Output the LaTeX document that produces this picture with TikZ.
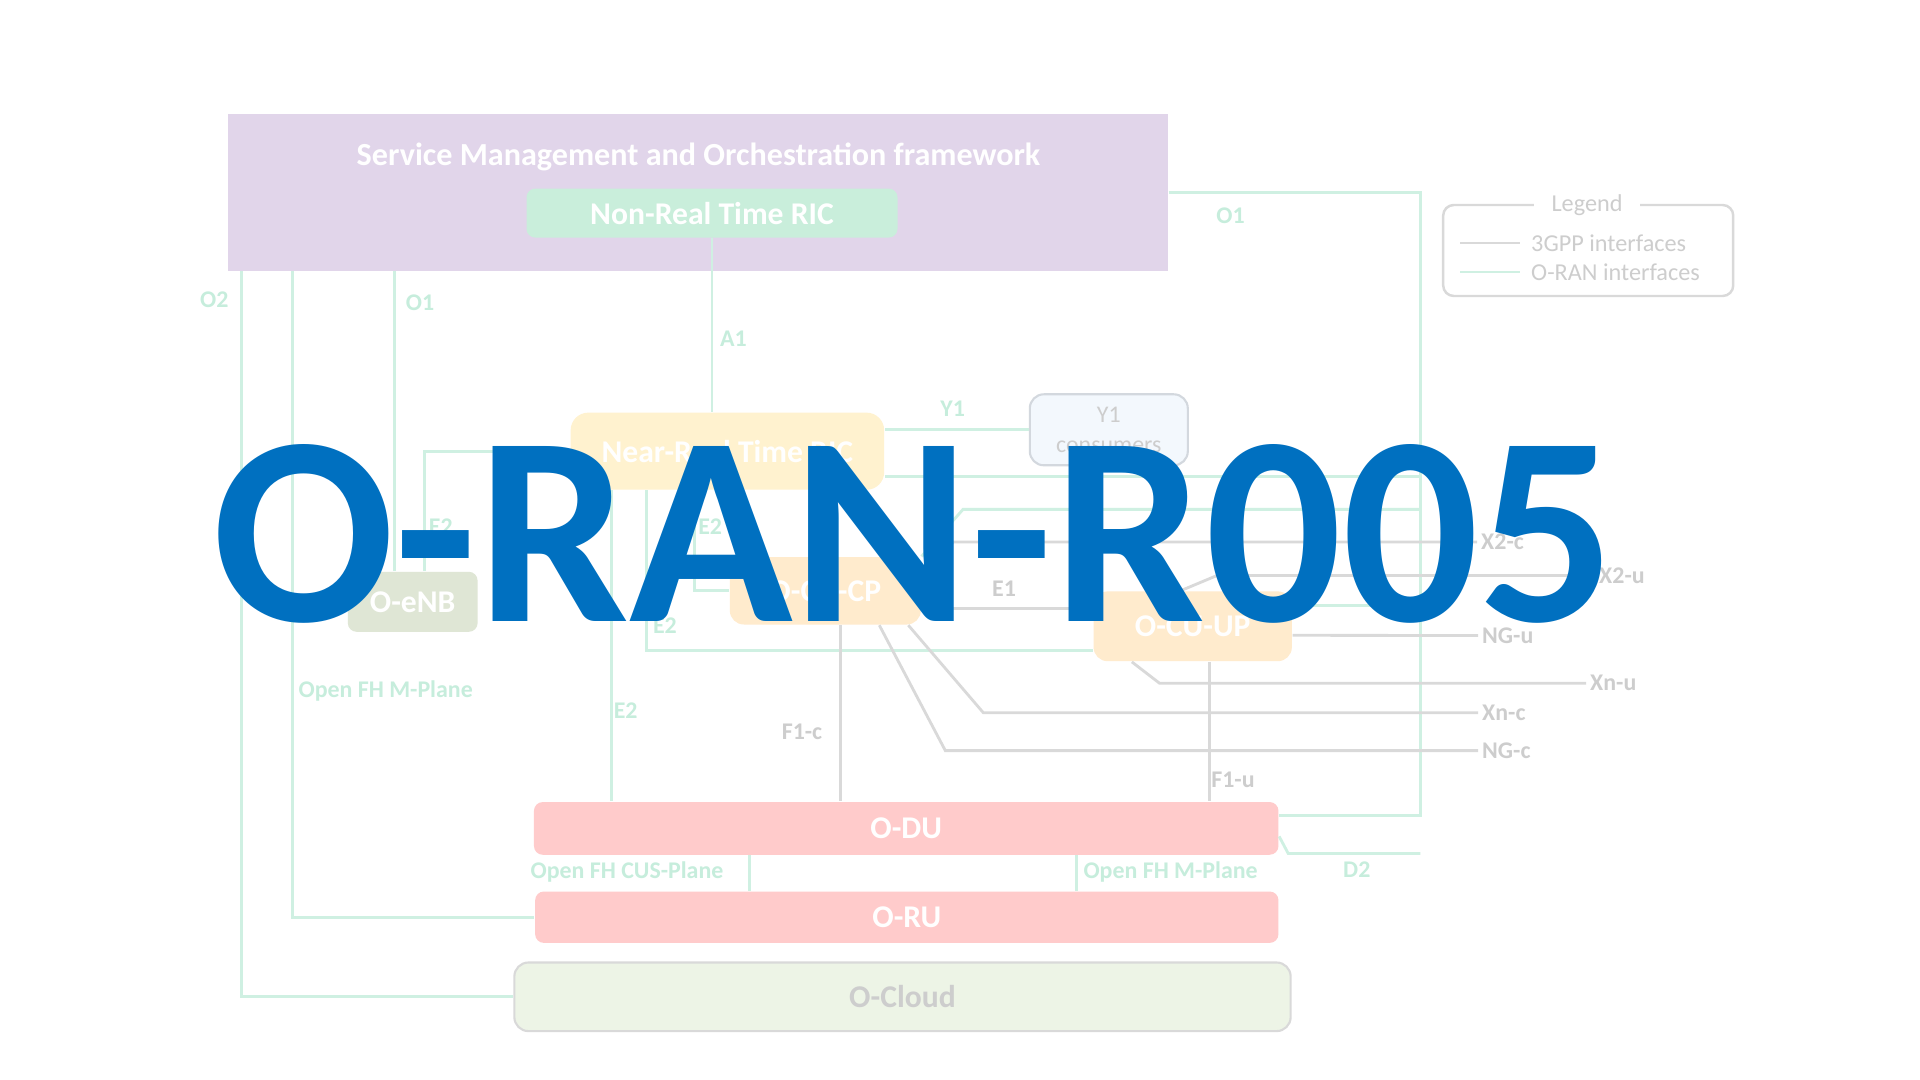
\documentclass[tikz,border=0pt]{standalone}
\usepackage{fontspec}
\setmainfont{Carlito}
\usepackage{tikz}
\usetikzlibrary{calc}
\definecolor{oranLine}{HTML}{CFF0E2}
\definecolor{oranText}{HTML}{C6EDDC}
\definecolor{gppLine}{HTML}{D9D9D9}
\definecolor{gppText}{HTML}{CDCDCD}
\definecolor{smoFill}{HTML}{E1D5EA}
\definecolor{nonrtFill}{HTML}{C9EEDB}
\definecolor{nearrtFill}{HTML}{FFF2CF}
\definecolor{cuFill}{HTML}{FFEBCD}
\definecolor{enbFill}{HTML}{DFE6D5}
\definecolor{duFill}{HTML}{FFCBCB}
\definecolor{cloudFill}{HTML}{EDF4E6}
\definecolor{yconFill}{HTML}{F3F8FD}
\definecolor{yconDraw}{HTML}{D3D8DE}
\definecolor{brandBlue}{HTML}{0070C0}

\tikzset{
  blk/.style={inner sep=0pt, rounded corners=2.5pt, text=white,
    font=\bfseries\fontsize{9}{10}\selectfont},
  oran/.style={draw=oranLine, line width=0.8pt},
  tgpp/.style={draw=gppLine, line width=0.8pt},
  olab/.style={text=oranText, inner sep=0.5pt, font=\bfseries\fontsize{6.8}{8}\selectfont},
  glab/.style={text=gppText, inner sep=1pt, font=\bfseries\fontsize{6.8}{8}\selectfont},
  legtxt/.style={text=gppText, inner sep=1pt, font=\fontsize{6.9}{8}\selectfont},
}

\begin{document}
\begin{tikzpicture}
    \fill[white] (0,0) rectangle (19.2,-10.8);
    \useasboundingbox (0,0) rectangle (19.2,-10.8);
    % boxes
    \node[blk, fill=smoFill, rounded corners=0pt, minimum width=9.40cm, minimum height=1.567cm] (smo) at (6.98,-1.923) {};
    \node[blk, fill=none, font=\bfseries\fontsize{9.15}{10}\selectfont] (smotitle) at (6.986,-1.57) {Service Management and Orchestration framework};
    \node[blk, fill=nonrtFill, minimum width=3.71cm, minimum height=0.49cm] (nonrt) at (7.12,-2.131) {Non-Real Time RIC};
    \node[blk, fill=nearrtFill, rounded corners=5pt, minimum width=3.135cm, minimum height=0.771cm] (nearrt) at (7.274,-4.512) {Near-Real Time RIC};
    \node[blk, fill=yconFill, draw=yconDraw, line width=0.6pt, rounded corners=4pt, text=gppText, align=center,
      font=\fontsize{6.8}{8.4}\selectfont, minimum width=1.58cm, minimum height=0.71cm] (y1c) at (11.088,-4.298) {Y1\\consumers};
    \node[blk, fill=enbFill, minimum width=1.298cm, minimum height=0.60cm] (oenb) at (4.127,-6.018) {O-eNB};
    \node[blk, fill=cuFill, rounded corners=4pt, minimum width=1.91cm, minimum height=0.674cm] (cucp) at (8.253,-5.908) {O-CU-CP};
    \node[blk, fill=cuFill, rounded corners=4pt, minimum width=1.983cm, minimum height=0.698cm] (ocuup) at (11.927,-6.263) {O-CU-UP};
    \node[blk, fill=duFill, minimum width=7.445cm, minimum height=0.527cm] (odu) at (9.062,-8.284) {O-DU};
    \node[blk, fill=duFill, minimum width=7.433cm, minimum height=0.514cm] (oru) at (9.068,-9.172) {O-RU};
    \node[blk, fill=cloudFill, draw=gppLine, line width=0.6pt, rounded corners=4pt, text=gppText,
      minimum width=7.763cm, minimum height=0.686cm] (ocloud) at (9.025,-9.968) {O-Cloud};

    % legend
    \node[draw=gppLine, line width=0.7pt, rounded corners=3pt, minimum width=2.90cm, minimum height=0.91cm] (legend) at (15.882,-2.505) {};
    \node[legtxt, fill=white, inner xsep=5pt] (legtitle) at (15.87,-2.05) {Legend};
    \node[legtxt, anchor=west] (leg3gpp) at (15.27,-2.43) {3GPP interfaces};
    \node[legtxt, anchor=west] (legoran) at (15.27,-2.72) {O-RAN interfaces};
    \draw[tgpp] ([xshift=-0.67cm]leg3gpp.west) -- ([xshift=-0.07cm]leg3gpp.west);
    \draw[oran] ([xshift=-0.67cm]legoran.west) -- ([xshift=-0.07cm]legoran.west);

    % O-RAN interfaces
    \coordinate (o2x) at (2.412,0);
    \coordinate (fhx) at (2.927,0);
    \coordinate (o1x) at (3.943,0);
    \coordinate (o1bus) at (14.204,-1.922);
    \coordinate (o1cpbend) at (9.63,-5.094);
    \coordinate (d2bend) at (12.882,-8.535);
    \draw[oran] (smo.south -| o2x) |- (ocloud.west);
    \draw[oran] (smo.south -| fhx) |- (oru.west);
    \draw[oran] (smo.south -| o1x) -- (oenb.north -| o1x);
    \draw[oran] (nonrt.south) -- (nearrt.north -| nonrt.south);
    \draw[oran] (smo.east |- o1bus) -- (o1bus) |- ([yshift=1.3mm]odu.east);
    \draw[oran] ([yshift=-2.5mm]nearrt.east) coordinate (t) -- (t -| o1bus);
    \draw[oran] (cucp.north east) -- (o1cpbend) -- (o1cpbend -| o1bus);
    \draw[oran] ([yshift=2.1mm]ocuup.east) coordinate (t) -- (t -| o1bus);
    \draw[oran] (y1c.west) -- (y1c.west -| nearrt.east);
    \draw[oran] (nearrt.west) -| ([xshift=1.2mm]oenb.north);
    \draw[oran] ([xshift=-3.3mm]nearrt.south) |- (cucp.west);
    \draw[oran] ([xshift=-8.1mm]nearrt.south) |- ([yshift=-2.4mm]ocuup.west);
    \draw[oran] ([xshift=-11.6mm]nearrt.south) coordinate (t) -- (t |- odu.north);
    \draw[oran] ([xshift=-15.7mm]odu.south) coordinate (t) -- (t |- oru.north);
    \draw[oran] ([xshift=17.0mm]odu.south) coordinate (t) -- (t |- oru.north);
    \draw[oran] ([yshift=-0.8mm]odu.east) -- (d2bend) -- (d2bend -| o1bus);

    % 3GPP interfaces
    \foreach \nm/\txt/\xx/\yy in {x2c/X2-c/14.77/-5.42, x2u/X2-u/15.95/-5.755, ngu/NG-u/14.78/-6.355,
                                  xnu/Xn-u/15.86/-6.833, xnc/Xn-c/14.78/-7.127, ngc/NG-c/14.78/-7.506}
      \node[glab, anchor=west] (\nm) at (\xx,\yy) {\txt};
    \coordinate (x2cbend) at (9.53,-5.42);
    \coordinate (x2ubend) at (12.17,-5.755);
    \coordinate (xnubend) at (11.596,-6.833);
    \coordinate (xncbend) at (9.833,-7.127);
    \coordinate (ngcbend) at (9.453,-7.506);
    \draw[tgpp] (cucp.east) -- (x2cbend) -- (x2c.west);
    \draw[tgpp] ([xshift=-1.2mm]ocuup.north) -- (x2ubend) -- (x2u.west);
    \draw[tgpp] ([yshift=-0.9mm]ocuup.east) -- (ngu.west);
    \draw[tgpp] ([xshift=3.9mm]ocuup.south west) -- (xnubend) -- (xnu.west);
    \draw[tgpp] ([xshift=8.3mm]cucp.south) -- (xncbend) -- (xnc.west);
    \draw[tgpp] ([xshift=5.4mm]cucp.south) -- (ngcbend) -- (ngc.west);
    \draw[tgpp] ([yshift=-1.8mm]cucp.east) coordinate (t) -- (t -| ocuup.west);
    \draw[tgpp] ([xshift=1.5mm]cucp.south) coordinate (t) -- (t |- odu.north);
    \draw[tgpp] ([xshift=1.7mm]ocuup.south) coordinate (t) -- (t |- odu.north);

    % interface labels
    \foreach \nm/\txt/\xx/\yy in {lo1top/O1/12.306/-2.155, la1/A1/7.335/-3.392, lo2/O2/2.143/-3.0,
        lo1enb/O1/4.2/-3.025, ly1/Y1/9.527/-4.09, le2enb/E2/4.408/-5.265, le2cp/E2/7.102/-5.265,
        le2up/E2/6.649/-6.257, le2du/E2/6.257/-7.102, lfhm/Open FH M-Plane/3.857/-6.906,
        lcus/Open FH CUS-Plane/6.27/-8.718, lfhm2/Open FH M-Plane/11.706/-8.718, ld2/D2/13.568/-8.694}
      \node[olab] (\nm) at (\xx,\yy) {\txt};
    \foreach \nm/\txt/\xx/\yy in {le1/E1/10.04/-5.89, lf1c/F1-c/8.02/-7.323, lf1u/F1-u/12.33/-7.80}
      \node[glab] (\nm) at (\xx,\yy) {\txt};

    % overlay
    \node[anchor=base, inner sep=0pt, text=brandBlue, font=\bfseries\fontsize{76.8}{80}\selectfont] (brand) at (9.14,-6.21) {O-RAN-R005};
  \end{tikzpicture}
\end{document}
